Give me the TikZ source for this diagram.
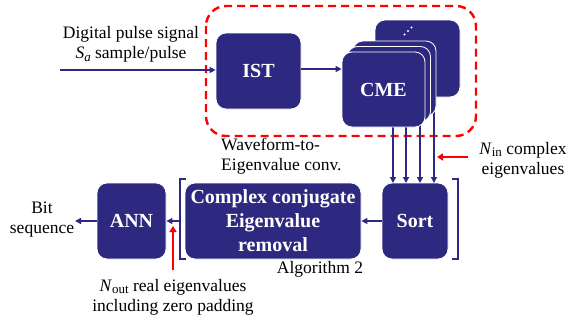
\documentclass[tikz,border=0pt]{standalone}
\usepackage{fontspec}
\setmainfont{Liberation Serif}
\usetikzlibrary{arrows.meta}
\definecolor{navy}{RGB}{46,41,128}
\newcommand\subx[1]{\raisebox{-0.35ex}{\fontsize{13}{13}\selectfont #1}}
\begin{document}
\begin{tikzpicture}[x=1pt,y=-1pt,
  blk/.style={draw=white,line width=0.8pt,fill=navy,rounded corners=10pt,text=white,
    font=\fontsize{20}{24}\selectfont\bfseries,inner sep=0pt,align=center},
  lbl/.style={font=\fontsize{17.5}{20}\selectfont,inner sep=0pt,align=center},
  nav/.style={draw=navy,line width=1.8pt,-{Triangle[length=6pt,width=6pt]}},
  redarr/.style={draw=red,line width=2.2pt,-{Triangle[length=6pt,width=7pt]}}]
\useasboundingbox (0,0) rectangle (568,324);
% red dashed group
\draw[red,line width=2.4pt,dash pattern=on 8pt off 5pt,rounded corners=20pt] (206,6) rectangle (476,136);
% vertical lines from CME stack to Sort (drawn first, boxes cover their tops)
\node[blk,minimum width=66pt,minimum height=76pt] (sort) at (415,221) {Sort};
\foreach \xx/\nm in {393/a,406/b,420/c,434/d}{
  \coordinate (top\nm) at (\xx,100);
  \coordinate (bot\nm) at (\xx,183);
  \draw[nav] (top\nm) -- (bot\nm);
}
% CME stack
\node[blk,minimum width=85pt,minimum height=77pt] (back) at (417.5,58.5) {};
\fill[white] (404.5,34.5) circle (1.1pt) (408,31) circle (1.1pt) (411.5,27.5) circle (1.1pt);
\node[blk,minimum width=83pt,minimum height=75pt] (cme3) at (394.5,78.5) {};
\node[blk,minimum width=83pt,minimum height=75pt] (cme2) at (389,84) {};
\node[blk,minimum width=83pt,minimum height=75pt] (cme) at (383.5,89.5) {CME};
% IST
\node[blk,minimum width=85pt,minimum height=76pt] (ist) at (258.5,71) {IST};
\coordinate (in) at (60,70);
\draw[nav] (in) -- (ist.west |- in);
\draw[nav] (ist.east |- 0,69) -- (cme.west |- 0,69);
\node[lbl] (dps) at (131,44) {Digital pulse signal\\\textit{S}\subx{\textit{a}} sample/pulse};
% Waveform label
\node[lbl,align=left,anchor=west] (wtoe) at (221,156) {Waveform-to-\\Eigenvalue conv.};
% N_in label and red arrow
\node[lbl] (nin) at (523,160) {\textit{N}\subx{in} complex\\eigenvalues};
\coordinate (ra1) at (468,157);
\coordinate (ra2) at (437,157);
\draw[redarr] (ra1) -- (ra2);
% bottom row
\node[blk,minimum width=176pt,minimum height=76pt] (ccr) at (273,221) {Complex conjugate\\Eigenvalue\\removal};
\node[blk,minimum width=69pt,minimum height=76pt] (ann) at (131.5,221) {ANN};
% brackets
\draw[navy,line width=1.8pt] (186,179) -- (180,179) -- (180,259) -- (186,259);
\draw[navy,line width=1.8pt] (452,179) -- (458,179) -- (458,259) -- (452,259);
\coordinate (brl) at (180,221);
\coordinate (bitend) at (75,221);
\draw[nav] (sort.west) -- (ccr.east);
\draw[nav] (brl) -- (ann.east);
\draw[nav] (ann.west) -- (bitend);
\node[lbl] (bit) at (42,220) {Bit\\sequence};
\node[lbl] (alg) at (320,269) {Algorithm 2};
\coordinate (rb1) at (173,270);
\coordinate (rb2) at (173,226);
\draw[redarr] (rb1) -- (rb2);
\node[lbl] (nout) at (173,297) {\textit{N}\subx{out} real eigenvalues\\including zero padding};
\end{tikzpicture}
\end{document}
